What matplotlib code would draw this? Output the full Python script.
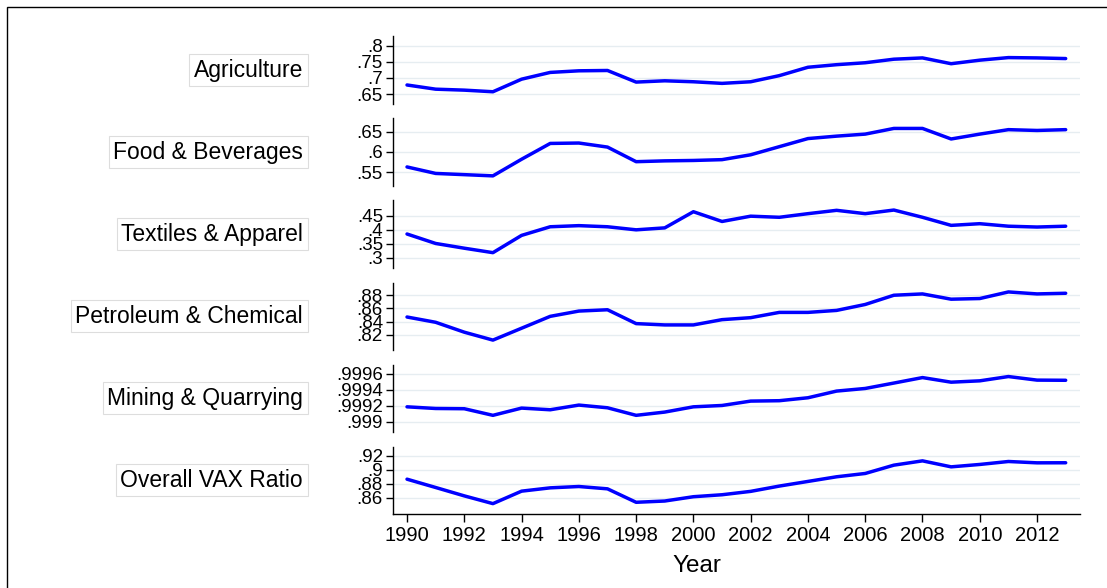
import matplotlib
matplotlib.use("Agg")
import matplotlib.pyplot as plt
from matplotlib.ticker import FuncFormatter
from matplotlib.patches import Rectangle

plt.rcParams['font.family'] = ['Liberation Sans', 'DejaVu Sans']

years = list(range(1990, 2014))

sectors = ["Agriculture", "Food & Beverages", "Textiles & Apparel",
           "Petroleum & Chemical", "Mining & Quarrying", "Overall VAX Ratio"]

agriculture = [0.678, 0.665, 0.662, 0.657, 0.696, 0.717, 0.722, 0.723, 0.687, 0.691,
               0.688, 0.683, 0.688, 0.707, 0.733, 0.741, 0.747, 0.758, 0.762, 0.744,
               0.755, 0.763, 0.762, 0.760]
food = [0.563, 0.547, 0.544, 0.541, 0.582, 0.621, 0.622, 0.612, 0.576, 0.578,
        0.579, 0.581, 0.593, 0.613, 0.633, 0.639, 0.644, 0.658, 0.658, 0.632,
        0.644, 0.655, 0.653, 0.655]
textiles = [0.385, 0.351, 0.334, 0.318, 0.380, 0.411, 0.415, 0.411, 0.400, 0.407,
            0.465, 0.430, 0.449, 0.445, 0.458, 0.470, 0.458, 0.471, 0.445, 0.416,
            0.422, 0.413, 0.410, 0.413]
petroleum = [0.847, 0.839, 0.824, 0.812, 0.830, 0.848, 0.856, 0.858, 0.837, 0.835,
             0.835, 0.843, 0.846, 0.854, 0.854, 0.857, 0.866, 0.880, 0.882, 0.874,
             0.875, 0.885, 0.882, 0.883]
mining = [0.999187, 0.999166, 0.999163, 0.999080, 0.999171, 0.999150, 0.999209, 0.999175,
          0.999080, 0.999121, 0.999187, 0.999204, 0.999259, 0.999264, 0.999301, 0.999385,
          0.999418, 0.999486, 0.999555, 0.999497, 0.999514, 0.999568, 0.999523, 0.999521]
overall = [0.8867, 0.8749, 0.8630, 0.8520, 0.8697, 0.8744, 0.8763, 0.8730, 0.8539, 0.8557,
           0.8618, 0.8646, 0.8694, 0.8769, 0.8835, 0.8901, 0.8948, 0.9066, 0.9127, 0.9042,
           0.9076, 0.9118, 0.9099, 0.9100]

series = [agriculture, food, textiles, petroleum, mining, overall]

yticks = [[0.65, 0.7, 0.75, 0.8],
          [0.55, 0.6, 0.65],
          [0.3, 0.35, 0.4, 0.45],
          [0.82, 0.84, 0.86, 0.88],
          [0.999, 0.9992, 0.9994, 0.9996],
          [0.86, 0.88, 0.9, 0.92]]
ylims = [(0.619, 0.830), (0.516, 0.683), (0.264, 0.506), (0.797, 0.899),
         (0.998874, 0.999717), (0.8377, 0.9328)]
xticks = list(range(1990, 2013, 2))

W, H = 1107, 588
fig = plt.figure(figsize=(W / 100, H / 100), dpi=100)

# panel vertical extents in pixels (top, bottom)
panels_px = [(36, 104), (118.3, 186), (200.3, 267.7), (282.7, 350),
             (364.7, 431.7), (446.7, 513.7)]
left_px, right_px = 392.7, 1080

def fmt(v, pos):
    s = f"{v:g}"
    if s.startswith("0."):
        s = s[1:]
    return s

for i, (name, vals) in enumerate(zip(sectors, series)):
    top, bot = panels_px[i]
    ax = fig.add_axes([left_px / W, 1 - bot / H, (right_px - left_px) / W, (bot - top) / H])
    ax.plot(years, vals, color='#0000ff', lw=2.5, solid_joinstyle='round',
            solid_capstyle='round', zorder=3)
    ax.set_xlim(1989.5, 2013.5)
    ax.set_ylim(*ylims[i])
    ax.set_yticks(yticks[i])
    ax.yaxis.set_major_formatter(FuncFormatter(fmt))
    ax.grid(axis='y', color='#e6edf1', lw=1.0, zorder=0)
    for s in ['top', 'right']:
        ax.spines[s].set_visible(False)
    ax.spines['left'].set_linewidth(1.0)
    ax.tick_params(axis='y', length=5, width=1.0, labelsize=13.5, pad=2)
    if i < 5:
        ax.spines['bottom'].set_visible(False)
        ax.set_xticks([])
    else:
        ax.spines['bottom'].set_linewidth(1.0)
        ax.set_xticks(xticks)
        ax.tick_params(axis='x', length=6, width=1.0, labelsize=14.5, pad=3)
        ax.set_xlabel("Year", fontsize=17.5, labelpad=10)
        ax.xaxis.set_label_coords((697 - left_px) / (right_px - left_px), -0.62)
    fig.text(303 / W, 1 - ((top + bot) / 2) / H, name, ha='right', va='center',
             fontsize=16.5,
             bbox=dict(boxstyle='square,pad=0.2', fc='white', ec='#dddddd', lw=0.8))

# outer frame
fig.add_artist(Rectangle((7 / W, -0.02), 1.05, 1 - 7 / H + 0.02,
                         transform=fig.transFigure, fill=False, ec='black', lw=1.0,
                         clip_on=False))

fig.savefig("out.png", dpi=100)
